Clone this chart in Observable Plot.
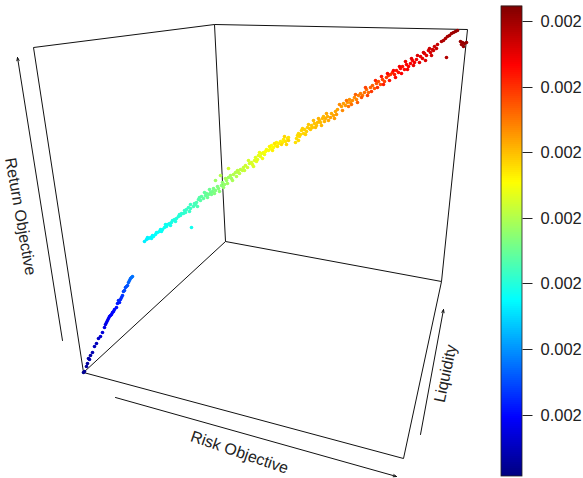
<!DOCTYPE html>
<html><head><meta charset="utf-8">
<style>html,body{margin:0;padding:0;background:#fff}svg{display:block}</style>
<script src="https://cdn.jsdelivr.net/npm/d3@7"></script>
<script src="https://cdn.jsdelivr.net/npm/@observablehq/plot@0.6"></script>
</head><body><script>
// Projected 3D box edges (picture units)
const edgeX1 = [83, 33, 214, 225, 83, 225, 441, 403, 467];
const edgeY1 = [372, 47, 24, 241, 372, 241, 281, 458, 29];
const edgeX2 = [33, 214, 467, 214, 225, 441, 403, 83, 441];
const edgeY2 = [47, 24, 29, 24, 241, 281, 458, 372, 281];

// Axis arrows and their titles
const axisNames = ["Return Objective", "Risk Objective", "Liquidity"];
const arrowX1 = [62, 115, 420];
const arrowY1 = [340, 397, 434];
const arrowX2 = [17, 396, 443];
const arrowY2 = [57, 476, 309];
const titleX = [20, 239, 445];
const titleY = [216, 452, 373];
const titleAngle = [80, 19, -78];

// Portfolio cloud: position in the picture and colour level along the bar
const pointX = [83,84,87,88,90,92,94,96,98,100,102,105,107,108,110,112,113,116,117,119,122,123,125,127,128,130,132,
  144,146,148,150,152,153,155,157,159,160,162,164,166,167,169,171,172,174,176,178,179,181,183,184,186,188,190,190,191,193,194,196,198,199,201,203,205,206,208,210,212,213,215,217,218,215,220,221,222,224,226,228,228,225,231,230,233,235,237,238,
  240,242,243,245,247,249,251,252,254,255,257,258,260,261,263,264,266,268,270,271,273,275,276,278,280,282,283,285,287,288,
  296,297,298,299,301,303,304,306,307,309,311,312,314,316,317,319,320,322,323,325,327,331,333,335,337,341,343,345,347,349,350,352,354,356,358,360,362,364,366,368,370,372,374,376,378,380,382,384,386,388,390,392,
  394,396,398,400,402,404,406,408,410,412,414,416,420,422,424,426,428,430,432,434,436,
  441,443,445,447,449,451,453,455,457,446,460,462,464,461,463,466];
const pointY = [372,371,363,358,355,352,346,343,338,336,332,324,320,318,315,312,311,307,303,302,295,291,287,285,282,278,276,
  241,239,238,237,235,236,234,232,231,229,229,227,226,224,223,222,220,219,218,216,214,213,213,210,209,207,208,204,227,206,203,202,199,197,196,198,195,193,194,192,191,188,190,186,188,180,175,185,182,184,180,168,177,178,178,175,174,172,170,172,
  169,170,167,165,167,163,162,164,160,157,159,155,156,153,152,154,149,150,148,145,147,145,142,143,141,142,139,141,138,137,
  138,135,133,136,130,133,129,131,127,128,125,127,123,125,122,120,122,118,116,118,116,113,115,111,109,106,103,105,102,99,102,100,97,99,95,93,95,92,89,92,87,85,88,83,81,84,79,81,77,75,74,72,
  74,70,72,68,66,69,64,66,63,60,62,59,56,58,53,55,50,52,49,46,48,
  41,40,38,36,35,33,32,31,30,57,41,42,43,44,46,42];
const pointLevel = [.02,.02,.03,.04,.04,.05,.06,.06,.07,.08,.09,.10,.11,.11,.12,.13,.13,.14,.15,.15,.18,.19,.2,.21,.22,.23,.24,
  .36,.36,.365,.37,.37,.375,.375,.38,.38,.38,.385,.39,.39,.39,.395,.4,.4,.405,.41,.41,.415,.42,.42,.425,.43,.43,.435,.435,.39,.44,.44,.45,.455,.46,.465,.47,.47,.48,.48,.485,.49,.495,.5,.5,.505,.53,.55,.51,.515,.52,.525,.58,.53,.54,.53,.54,.55,.55,.56,.555,
  .56,.565,.57,.575,.58,.58,.585,.59,.59,.595,.6,.6,.6,.605,.61,.61,.615,.62,.62,.625,.63,.63,.635,.64,.64,.645,.645,.65,.65,.65,
  .655,.66,.66,.66,.665,.665,.67,.67,.675,.675,.68,.68,.685,.685,.69,.69,.69,.695,.695,.7,.7,.705,.71,.71,.715,.72,.72,.725,.725,.73,.73,.735,.74,.745,.75,.755,.76,.765,.77,.77,.78,.78,.785,.79,.795,.8,.805,.81,.82,.825,.83,.84,
  .85,.855,.86,.865,.865,.87,.875,.875,.88,.88,.885,.89,.895,.9,.9,.905,.91,.915,.92,.925,.93,
  .95,.955,.955,.96,.965,.965,.97,.975,.975,.95,.975,.975,.98,.97,.975,.98];

// Further portfolios on the edges of the band
const edgeDotX = [86,89,104,106,109,111,114,118,120,121,124,126,129,131,
  147,151,156,161,165,170,175,180,185,189,195,197,200,204,207,209,211,214,219,223,227,232,236,239,
  244,248,253,256,259,262,265,269,272,274,277,281,284,286,288,
  295,298,300,302,305,308,310,313,315,318,321,324,326,328,330,334,336,339,342,346,348,351,355,357,361,365,367,371,375,377,381,383,387,389,393,395,399,401,405,407,411,413,417,419,423,425,429,431,433,437];
const edgeDotY = [366,359,327,322,316,314,309,300,299,297,290,286,280,277,
  237,238,232,231,224,225,221,215,212,211,204,206,200,192,197,189,194,193,191,187,183,180,176,173,
  170,160,166,161,152,158,151,146,150,143,146,144,136,144,140,
  142,140,134,128,134,124,129,120,127,118,125,121,113,120,117,118,114,104,110,100,106,104,94,102,97,87,95,91,80,87,76,84,73,80,70,77,66,73,61,69,58,65,55,62,52,60,48,55,50,44];
const edgeDotLevel = [.03,.04,.1,.11,.12,.125,.135,.16,.165,.17,.195,.205,.225,.235,
  .365,.37,.38,.385,.39,.395,.405,.415,.425,.43,.445,.45,.46,.47,.48,.48,.49,.5,.51,.52,.53,.54,.55,.56,
  .57,.585,.59,.6,.61,.615,.625,.635,.64,.65,.65,.66,.665,.665,.67,
  .655,.66,.665,.67,.67,.68,.68,.69,.69,.7,.695,.7,.71,.71,.715,.72,.725,.74,.74,.76,.76,.765,.78,.78,.79,.81,.81,.82,.84,.83,.855,.85,.87,.86,.875,.87,.885,.88,.89,.885,.9,.895,.905,.9,.915,.91,.925,.92,.925,.93];
const points = pointX.map((x, i) => ({x, y: pointY[i], level: pointLevel[i]}))
  .concat(edgeDotX.map((x, i) => ({x, y: edgeDotY[i], level: edgeDotLevel[i]})));

// Colour bar
const jetStops = [0, 0.125, 0.25, 0.375, 0.5, 0.625, 0.75, 0.875, 1];
const jetColors = ["#00007F","#0000FF","#007FFF","#00FFFF","#7FFF7F","#FFFF00","#FF7F00","#FF0000","#7F0000"];
const barLeft = 501, barRight = 522, barTop = 6, barBottom = 476;
const barLevels = d3.range(0, 235).map(i => i / 235);
const barStep = 1 / 235;
const barY = l => barBottom - l * (barBottom - barTop);
const tickLabels = ["0.002","0.002","0.002","0.002","0.002","0.002","0.002"];
const tickY = [415, 349, 283, 218, 152, 87, 21];

const edges = edgeX1.map((x, i) => ({x1: x, y1: edgeY1[i], x2: edgeX2[i], y2: edgeY2[i]}));
const arrows = axisNames.map((name, i) => ({name, x1: arrowX1[i], y1: arrowY1[i], x2: arrowX2[i], y2: arrowY2[i],
  tx: titleX[i], ty: titleY[i], angle: titleAngle[i]}));
const ticks = tickY.map((y, i) => ({y, label: tickLabels[i]}));
const font = "Liberation Sans, Arial, sans-serif";

const plot = Plot.plot({
  width: 583, height: 478, margin: 0,
  style: {background: "#fff", fontFamily: font},
  x: {domain: [0, 583], range: [0, 583], axis: null},
  y: {domain: [0, 478], range: [0, 478], axis: null},
  color: {type: "linear", domain: jetStops, range: jetColors, legend: false},
  marks: [
    Plot.link(edges, {x1: "x1", y1: "y1", x2: "x2", y2: "y2", stroke: "#111", strokeWidth: 1}),
    Plot.arrow(arrows, {x1: "x1", y1: "y1", x2: "x2", y2: "y2", stroke: "#111", strokeWidth: 1, headLength: 5, bend: 0, headAngle: 40}),
    ...arrows.map(a => Plot.text([a], {x: "tx", y: "ty", text: "name", rotate: a.angle, fontSize: 16, fill: "#222"})),
    Plot.dot(points, {x: "x", y: "y", fill: "level", r: 1.8, stroke: "none"}),
    Plot.rect(barLevels, {x1: barLeft, x2: barRight, y1: l => barY(l), y2: l => barY(l + barStep) - 0.3, fill: l => l + barStep / 2, inset: 0}),
    Plot.rect([0], {x1: barLeft, x2: barRight, y1: barTop, y2: barBottom, fill: "none", stroke: "#222", strokeWidth: 0.8}),
    Plot.link(ticks, {x1: barRight, x2: barRight + 10, y1: "y", y2: "y", stroke: "#222", strokeWidth: 1}),
    Plot.text(ticks, {x: barRight + 18, y: "y", text: "label", textAnchor: "start", fontSize: 16.5, fill: "#222"})
  ]
});
document.body.appendChild(plot);
</script></body></html>
